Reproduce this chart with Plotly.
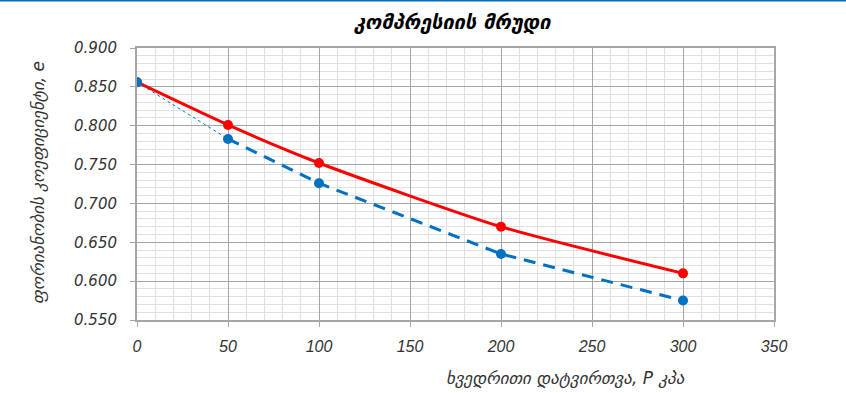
import plotly.graph_objects as go

load_kpa = [0, 50, 100, 200, 300]
red_e = [0.856, 0.801, 0.752, 0.670, 0.610]
blue_load_a = [0, 50]
blue_e_a = [0.856, 0.783]
blue_load_b = [50, 100, 200, 300]
blue_e_b = [0.783, 0.726, 0.635, 0.575]

title_text = "კომპრესიის მრუდი"
x_title = "ხვედრითი დატვირთვა, P კპა"
y_title = "ფორიანობის კოეფიციენტი, e"

RED = "#FF0000"
BLUE = "#0070C0"

fig = go.Figure()
fig.add_trace(go.Scatter(x=load_kpa, y=red_e, mode="lines+markers",
                         line=dict(color=RED, width=3, shape="spline", smoothing=0.6),
                         marker=dict(color=RED, size=10), showlegend=False))
fig.add_trace(go.Scatter(x=blue_load_a, y=blue_e_a, mode="lines",
                         line=dict(color=BLUE, width=1, dash="dot"), showlegend=False))
fig.add_trace(go.Scatter(x=blue_load_b, y=blue_e_b, mode="lines+markers",
                         line=dict(color=BLUE, width=3, dash="12px,8px"),
                         marker=dict(color=BLUE, size=10), showlegend=False))
fig.add_trace(go.Scatter(x=blue_load_a[:1], y=blue_e_a[:1], mode="markers",
                         marker=dict(color=BLUE, size=10), showlegend=False))

fig.update_layout(
    width=846, height=393,
    margin=dict(l=137, r=72, t=48, b=73, autoexpand=False),
    paper_bgcolor="white", plot_bgcolor="white",
    font=dict(family="Liberation Sans", color="#404040"),
    hovermode=False,
    shapes=[dict(type="line", xref="paper", yref="paper", x0=-0.3, x1=1.3, y0=1.1745, y1=1.1745,
                 line=dict(color=BLUE, width=2))],
    annotations=[
        dict(text=title_text, xref="paper", yref="paper", x=0.496, y=1.096, xanchor="center", yanchor="middle",
             showarrow=False,
             font=dict(family="DejaVu Sans", size=20, color="black", style="italic", weight="bold")),
        dict(text=x_title, xref="paper", yref="paper", x=0.672, y=-0.213, xanchor="center", yanchor="middle",
             showarrow=False,
             font=dict(family="DejaVu Sans", size=17, color="#333333", style="italic")),
        dict(text=y_title, xref="paper", yref="paper", x=-0.155, y=0.504, xanchor="center", yanchor="middle",
             textangle=-90, showarrow=False,
             font=dict(family="DejaVu Sans", size=17, color="#333333", style="italic")),
    ],
)
fig.update_xaxes(range=[0, 350], dtick=50, tick0=0, automargin=False,
                 showgrid=True, gridcolor="#A6A6A6", gridwidth=1,
                 minor=dict(dtick=10, showgrid=True, gridcolor="#E0E0E0"),
                 showline=True, linecolor="#A6A6A6", linewidth=2, mirror=True,
                 ticks="outside", ticklen=5, tickcolor="#A6A6A6",
                 tickfont=dict(family="Liberation Sans Narrow, Liberation Sans", size=16, color="#333333", style="italic"),
                 ticklabelstandoff=6,
                 zeroline=False)
fig.update_yaxes(range=[0.55, 0.90], dtick=0.05, tick0=0.55, tickformat=".3f", automargin=False,
                 showgrid=True, gridcolor="#A6A6A6", gridwidth=1,
                 minor=dict(dtick=0.01, showgrid=True, gridcolor="#E0E0E0"),
                 showline=True, linecolor="#A6A6A6", linewidth=2, mirror=True,
                 ticks="outside", ticklen=5, tickcolor="#A6A6A6",
                 tickfont=dict(family="DejaVu Sans", size=15, color="#333333", style="italic"),
                 ticklabelstandoff=10,
                 zeroline=False)

fig.write_html("out.html", config={"displayModeBar": False},
               post_script="document.body.style.margin='0';")
